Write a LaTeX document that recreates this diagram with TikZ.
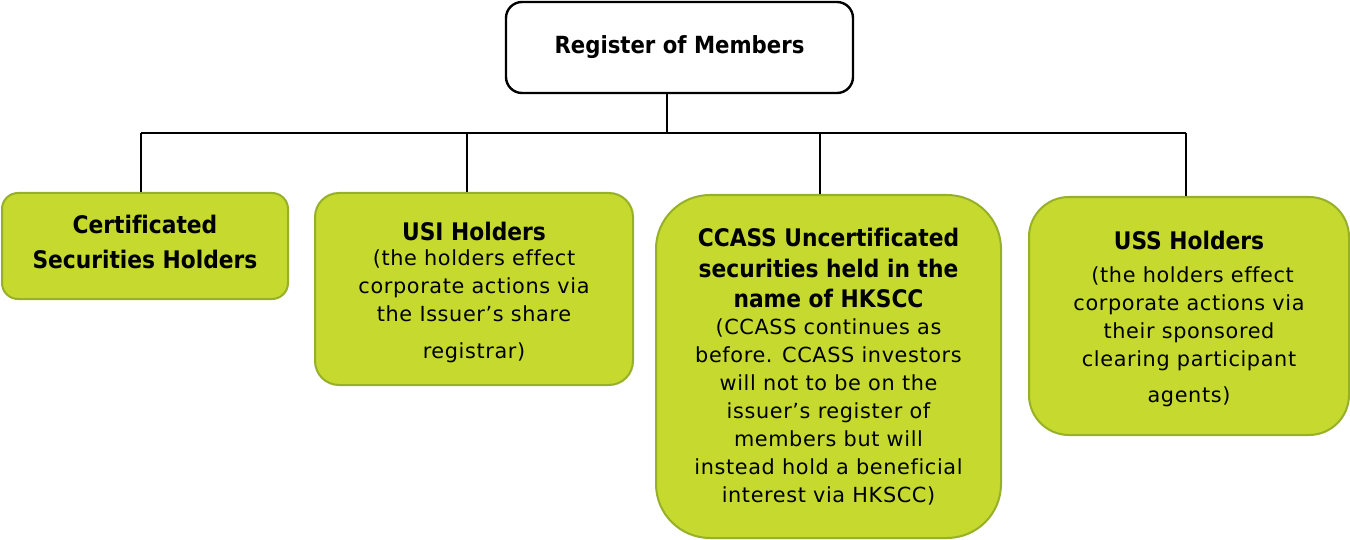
\documentclass[tikz,border=0pt]{standalone}
\usepackage{fontspec}
\setmainfont{DejaVu Sans}[Ligatures=NoCommon]
\newfontfamily\bodyfont[LetterSpace=3,Ligatures=NoCommon]{DejaVu Sans}
\newfontfamily\headfont[Ligatures=NoCommon]{DejaVu Sans Condensed}
\definecolor{boxfill}{RGB}{197,217,47}
\definecolor{boxline}{RGB}{150,176,40}
\newcommand\hd[1]{{\headfont\bfseries\fontsize{12.1}{15.5}\selectfont #1}}
% a strut that lowers (padtop) or raises (padbot) a centred block
\newcommand\padtop[1]{\rule{0pt}{#1}}
\newcommand\padbot[1]{\rule[-#1]{0pt}{0pt}}
\begin{document}
\begin{tikzpicture}[x=0.5pt,y=-0.5pt,
  holder/.style={draw=boxline, line width=1pt, fill=boxfill, align=center,
    inner sep=0pt, text=black, font=\bodyfont\fontsize{10.4}{14}\selectfont},
  wire/.style={line width=0.8pt}]
\useasboundingbox (0,0) rectangle (1350,540);

% register at the top
\node[draw, line width=1.2pt, rounded corners=8pt, minimum width=173.5pt,
  minimum height=45.5pt, font=\headfont\bfseries\fontsize{11.8}{14}\selectfont]
  (rom) at (679.5,47.5) {Register of Members};

% the four kinds of holders
\node[holder, rounded corners=8pt, minimum width=143pt, minimum height=53pt]
  (cert) at (145,246) {\hd{Certificated}\\[3.5pt]\hd{Securities Holders}\padbot{4pt}};
\node[holder, rounded corners=12pt, minimum width=159pt, minimum height=96pt]
  (usi) at (474,289) {\padtop{12.5pt}\hd{USI Holders}\\[-1.5pt](the holders effect\\corporate actions via\\the Issuer’s share\\[4.5pt]registrar)};
\node[holder, rounded corners=27pt, minimum width=172.5pt, minimum height=171.5pt]
  (ccass) at (828.5,366.5) {\hd{CCASS Uncertificated}\\[1.5pt]\hd{securities held in the}\\[1pt]\hd{name of HKSCC}\\[-0.5pt](CCASS continues as\\before. CCASS investors\\will not to be on the\\issuer’s register of\\members but will\\instead hold a beneficial\\interest via HKSCC)};
\node[holder, rounded corners=20pt, minimum width=160pt, minimum height=119pt]
  (uss) at (1189,316) {\padtop{12.5pt}\hd{USS Holders}\\[2.5pt]\ (the holders effect\\corporate actions via\\their sponsored\\clearing participant\\[4pt]agents)};

% connectors
\coordinate (bus) at (667,133);
\coordinate (b1) at (141,133);
\coordinate (b2) at (467,133);
\coordinate (b3) at (820,133);
\coordinate (b4) at (1186,133);
\draw[wire] (rom.south -| bus) -- (bus);
\draw[wire] (b1) -- (b4);
\draw[wire] (b1) -- (b1 |- cert.north);
\draw[wire] (b2) -- (b2 |- usi.north);
\draw[wire] (b3) -- (b3 |- ccass.north);
\draw[wire] (b4) -- (b4 |- uss.north);
\end{tikzpicture}
\end{document}
